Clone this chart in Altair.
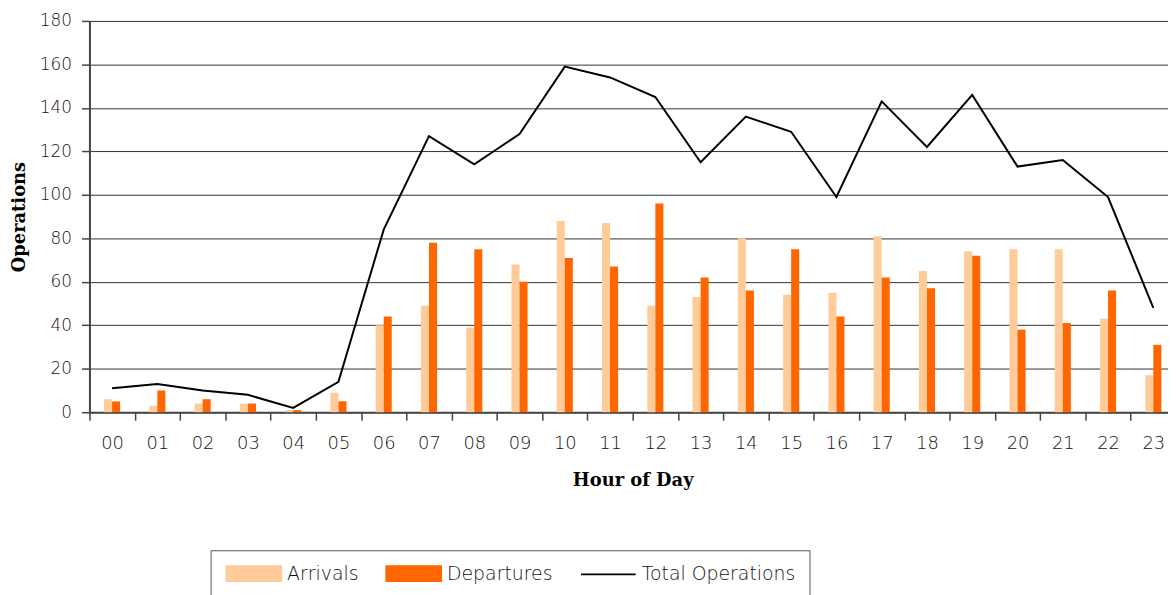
import altair as alt
import pandas as pd

hours = ["00", "01", "02", "03", "04", "05", "06", "07", "08", "09", "10", "11",
         "12", "13", "14", "15", "16", "17", "18", "19", "20", "21", "22", "23"]
arrivals = [6, 3, 4, 4, 1, 9, 40, 49, 39, 68, 88, 87, 49, 53, 80, 54, 55, 81, 65, 74, 75, 75, 43, 17]
departures = [5, 10, 6, 4, 1, 5, 44, 78, 75, 60, 71, 67, 96, 62, 56, 75, 44, 62, 57, 72, 38, 41, 56, 31]
totals = [11, 13, 10, 8, 2, 14, 84, 127, 114, 128, 159, 154, 145, 115, 136, 129, 99, 143, 122, 146, 113, 116, 99, 48]

series_names = ["Arrivals", "Departures", "Total Operations"]
series_colors = ["#FFCC99", "#FF6600", "#000000"]

rows = []
for h, a, d, t in zip(hours, arrivals, departures, totals):
    rows.append({"hour": h, "series": "Arrivals", "value": a})
    rows.append({"hour": h, "series": "Departures", "value": d})
    rows.append({"hour": h, "series": "Total Operations", "value": t})
df = pd.DataFrame(rows)

LABEL_FONT = "DejaVu Sans"
LABEL_WEIGHT = 200
TITLE_FONT = "DejaVu Serif"

# legend symbol: a 55x15 swatch drawn around a 15px symbol box
rect_path = "M-3.67,-1H3.67V1H-3.67Z"
line_path = "M-3.67,0H3.67"

color = alt.Color(
    "series:N",
    scale=alt.Scale(domain=series_names, range=series_colors),
    legend=alt.Legend(
        title=None,
        orient="none",
        direction="horizontal",
        columns=3,
        legendX=122,
        legendY=533,
        symbolType=alt.ExprRef(f"datum.value === 'Total Operations' ? '{line_path}' : '{rect_path}'"),
        symbolStrokeColor=alt.ExprRef("datum.value === 'Total Operations' ? 'black' : 'transparent'"),
        symbolStrokeWidth=2,
        symbolSize=225,
        symbolOffset=20,
        symbolOpacity=1,
        labelFont=LABEL_FONT,
        labelFontWeight=LABEL_WEIGHT,
        labelFontSize=19,
        labelColor="#111",
        labelOffset=24,
        columnPadding=23,
        padding=14,
        strokeColor="#555",
        fillColor="white",
    ),
)

x = alt.X(
    "hour:N",
    sort=hours,
    scale=alt.Scale(paddingInner=0, paddingOuter=0),
    axis=alt.Axis(
        title="Hour of Day",
        labelAngle=0,
        tickBand="extent",
        tickSize=8,
        tickColor="#444",
        tickWidth=1.5,
        domainColor="#444",
        domainWidth=2,
        labelFont=LABEL_FONT,
        labelFontWeight=LABEL_WEIGHT,
        labelFontSize=18,
        labelColor="#111",
        labelPadding=15,
        titleFont=TITLE_FONT,
        titleFontWeight="bold",
        titleFontSize=18,
        titleColor="#000",
        titlePadding=19,
        grid=False,
    ),
)

y = alt.Y(
    "value:Q",
    scale=alt.Scale(domain=[0, 180], nice=False),
    axis=alt.Axis(
        title="Operations",
        values=list(range(0, 181, 20)),
        tickSize=8,
        tickColor="#444",
        tickWidth=1.5,
        domainColor="#444",
        domainWidth=2,
        gridColor="#333",
        gridWidth=1,
        labelFont=LABEL_FONT,
        labelFontWeight=LABEL_WEIGHT,
        labelFontSize=17,
        labelColor="#111",
        labelPadding=10,
        titleFont=TITLE_FONT,
        titleFontWeight="bold",
        titleFontSize=18,
        titleColor="#000",
        titlePadding=11,
    ),
)

bars = alt.Chart(df).transform_filter(
    alt.FieldOneOfPredicate(field="series", oneOf=["Arrivals", "Departures"])
).mark_bar().encode(
    x=x,
    y=y,
    xOffset=alt.XOffset(
        "series:N",
        sort=["Arrivals", "Departures"],
        scale=alt.Scale(domain=["Arrivals", "Departures"], paddingInner=0, paddingOuter=0,
                        range=[14.7, 30.9]),
    ),
    color=color,
)

line = alt.Chart(df).transform_filter(
    alt.FieldEqualPredicate(field="series", equal="Total Operations")
).mark_line(strokeWidth=2).encode(
    x=x,
    y=y,
    color=color,
)

chart = alt.layer(bars, line).properties(
    width=1094,
    height=394,
    autosize="none",
    padding={"left": 82, "top": 11, "right": -8, "bottom": 182},
).configure_view(strokeWidth=0).configure(background="white")

chart.save("out.html", embed_options={"renderer": "svg", "actions": False})
